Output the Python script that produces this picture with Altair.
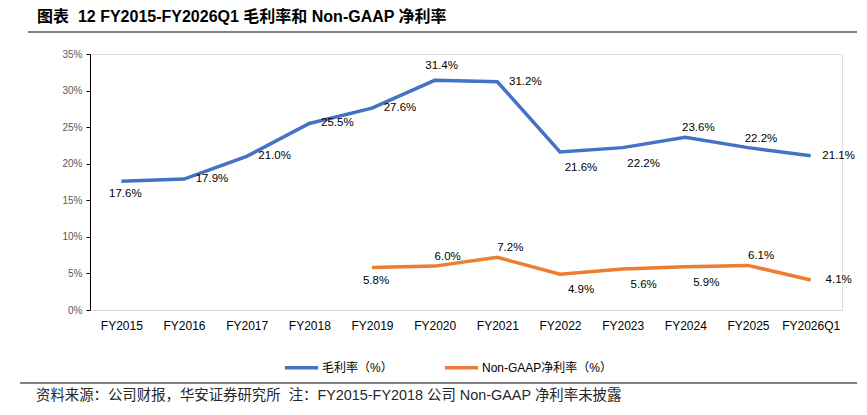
import altair as alt
import pandas as pd

years = ["FY2015", "FY2016", "FY2017", "FY2018", "FY2019", "FY2020",
         "FY2021", "FY2022", "FY2023", "FY2024", "FY2025", "FY2026Q1"]
gross_margin = [17.6, 17.9, 21.0, 25.5, 27.6, 31.4, 31.2, 21.6, 22.2, 23.6, 22.2, 21.1]
net_margin = [None, None, None, None, 5.8, 6.0, 7.2, 4.9, 5.6, 5.9, 6.1, 4.1]

GM_NAME = "毛利率（%）"
NM_NAME = "Non-GAAP净利率（%）"

# label placement (style) for each point
gm_pos = ["below", "right", "right", "right", "right", "above",
          "right", "below_right", "below_right", "above_right", "above_right", "right"]
nm_pos = [None, None, None, None, "below", "above_right",
          "above_right", "below_right", "below_right", "below_right", "above_right", "right"]
offsets = {
    "right": (28, 0),
    "below": (4, 13),
    "above": (7, -14),
    "below_right": (21, 16),
    "above_right": (13, -9),
}

rows = []
for i, y in enumerate(years):
    rows.append({"year": y, "series": GM_NAME, "value": gross_margin[i] / 100, "pos": gm_pos[i]})
    if net_margin[i] is not None:
        rows.append({"year": y, "series": NM_NAME, "value": net_margin[i] / 100, "pos": nm_pos[i]})
df = pd.DataFrame(rows)

FONT = "Liberation Sans, Arial, Noto Sans CJK SC"

x_enc = alt.X("year:N", sort=years, scale=alt.Scale(type="point", padding=0.5),
              axis=alt.Axis(title=None, labelAngle=0, ticks=False, domainColor="#d9d9d9",
                            labelColor="#000000", labelFontSize=12, labelPadding=10,
                            labelFont=FONT, labelOverlap=False))
y_enc = alt.Y("value:Q", scale=alt.Scale(domain=[0, 0.35], nice=False),
              axis=alt.Axis(title=None, format=".0%", values=[0, 0.05, 0.1, 0.15, 0.2, 0.25, 0.3, 0.35],
                            grid=False, domainColor="#000000", tickColor="#000000", tickSize=4,
                            labelColor="#595959", labelFontSize=10, labelPadding=4,
                            labelFont=FONT, labelOverlap=False))

color_enc = alt.Color("series:N", sort=[GM_NAME, NM_NAME],
                      scale=alt.Scale(domain=[GM_NAME, NM_NAME], range=["#4472C4", "#ED7D31"]),
                      legend=alt.Legend(title=None, orient="none", direction="horizontal",
                                        legendX=193, legendY=295, symbolType="stroke",
                                        symbolStrokeWidth=3.5, symbolSize=1100,
                                        labelFontSize=12, labelFont=FONT, labelColor="#000000",
                                        columnPadding=44, labelOffset=2, padding=0,
                                        labelLimit=300))

base = alt.Chart(df)
lines = base.mark_line(strokeWidth=3.5).encode(x=x_enc, y=y_enc, color=color_enc)

layers = [lines]
for name, (dx, dy) in offsets.items():
    t = base.transform_filter(alt.datum.pos == name).mark_text(
        dx=dx, dy=dy, fontSize=11.5, font=FONT, color="#000000", align="center", baseline="middle"
    ).encode(x=x_enc, y=y_enc, text=alt.Text("value:Q", format=".1%"))
    layers.append(t)

deco = pd.DataFrame({"k": [0]})
SEP_COLOR = "#595959"
# header / footer separators
title_rule = alt.Chart(deco).mark_rule(color=SEP_COLOR, strokeWidth=1.5, clip=False).encode(
    x=alt.value(-62), x2=alt.value(767), y=alt.value(-22))
foot_rule = alt.Chart(deco).mark_rule(color=SEP_COLOR, strokeWidth=1.5, clip=False).encode(
    x=alt.value(-70), x2=alt.value(767), y=alt.value(329))
foot_text = alt.Chart(deco).mark_text(
    align="left", baseline="middle", fontSize=14.4, font=FONT, color="#262626"
).encode(x=alt.value(-54), y=alt.value(342),
         text=alt.value("资料来源：公司财报，华安证券研究所\u00a0\u00a0注：FY2015-FY2018\u00a0公司\u00a0Non-GAAP\u00a0净利率未披露"))
title_text = alt.Chart(deco).mark_text(
    align="left", baseline="middle", fontSize=16, font=FONT, fontWeight="bold", color="#000000"
).encode(x=alt.value(-53), y=alt.value(-37),
         text=alt.value("图表\u00a0\u00a012 FY2015-FY2026Q1 毛利率和 Non-GAAP 净利率"))

chart = alt.layer(*layers, title_rule, foot_rule, foot_text, title_text).properties(
    width=752, height=256,
    autosize=alt.AutoSizeParams(type="none"),
    padding={"left": 82, "top": 46, "right": 17, "bottom": 95},
).configure_view(stroke=None).configure(background="#ffffff")

chart.save("out.html", embed_options={"renderer": "svg", "actions": False})
